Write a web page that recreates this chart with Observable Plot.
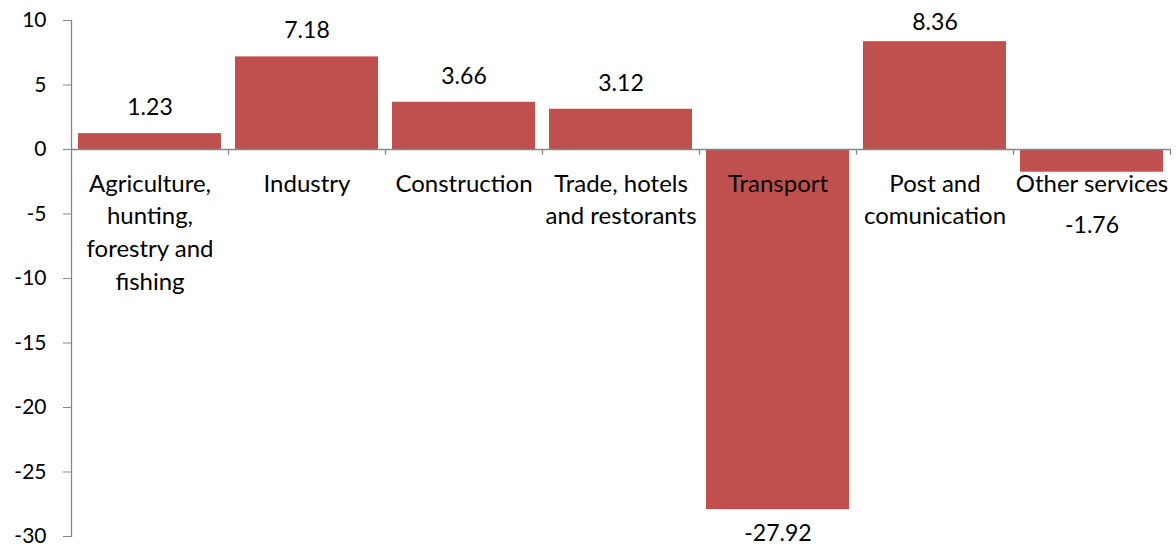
<!DOCTYPE html>
<html>
<head>
<meta charset="utf-8">
<script src="https://cdn.jsdelivr.net/npm/d3@7"></script>
<script src="https://cdn.jsdelivr.net/npm/@observablehq/plot@0.6"></script>
<style>
  html, body { margin: 0; padding: 0; background: #fff; }
  svg { display: block; }
</style>
</head>
<body>
<div id="chart"></div>
<script>
const categories = ["Agriculture, hunting, forestry and fishing", "Industry", "Construction", "Trade, hotels and restorants", "Transport", "Post and comunication", "Other services"];
const values = [1.23, 7.18, 3.66, 3.12, -27.92, 8.36, -1.76];
const tickLabels = ["Agriculture,\nhunting,\nforestry and\nfishing", "Industry", "Construction", "Trade, hotels\nand restorants", "Transport", "Post and\ncomunication", "Other services"];
const yTicks = [10, 5, 0, -5, -10, -15, -20, -25, -30];

const data = categories.map((c, i) => ({cat: c, value: values[i], label: tickLabels[i]}));

const W = 1176, H = 549;
const ml = 71, mr = 6, mt = 20, mb = 13;
const step = (W - ml - mr) / categories.length;
const FONT = "Lato, 'Open Sans', sans-serif";
const AXIS = "#868686";
const BAR = "#C0504D";

// labels of bars that reach near the top of the plot are kept inside the chart (as Excel does)
const nearTop = d => d.value > 8;

const chart = Plot.plot({
  width: W,
  height: H,
  marginLeft: ml,
  marginRight: mr,
  marginTop: mt,
  marginBottom: mb,
  style: {fontFamily: FONT, fontSize: "21px", color: "#000", background: "#fff"},
  x: {domain: categories, padding: 0.09, paddingOuter: 0.045, axis: null},
  y: {domain: [-30, 10]},
  marks: [
    Plot.barY(data, {x: "cat", y: "value", fill: BAR}),
    Plot.ruleY([0], {stroke: AXIS, strokeWidth: 1.3}),
    Plot.frame({anchor: "left", stroke: AXIS, strokeWidth: 1.3}),
    Plot.ruleX(categories, {x: d => d, y1: 0, y2: -0.45, dx: step / 2, stroke: AXIS, strokeWidth: 1.3}),
    Plot.axisY({ticks: yTicks, tickSize: 8, tickPadding: 17, stroke: AXIS, label: null, fontSize: 21, fill: "#000", tickFormat: d => String(d).replace("−", "-")}),
    Plot.text(data, {x: "cat", y: 0, text: "label", dy: 19, lineAnchor: "top", lineHeight: 1.36, fontSize: 24, fill: "#000"}),
    Plot.text(data.filter(d => d.value > 0 && !nearTop(d)), {x: "cat", y: "value", text: d => d.value.toFixed(2), dy: -26, fontSize: 23, fill: "#000"}),
    Plot.text(data.filter(nearTop), {x: "cat", frameAnchor: "top", lineAnchor: "middle", text: d => d.value.toFixed(2), dy: 2, fontSize: 23, fill: "#000"}),
    Plot.text(data.filter(d => d.value < -5), {x: "cat", y: "value", text: d => d.value.toFixed(2), dy: 24, fontSize: 23, fill: "#000"}),
    Plot.text(data.filter(d => d.value < 0 && d.value >= -5), {x: "cat", y: "value", text: d => d.value.toFixed(2), dy: 53, fontSize: 23, fill: "#000"})
  ]
});
document.getElementById("chart").appendChild(chart);
</script>
</body>
</html>
